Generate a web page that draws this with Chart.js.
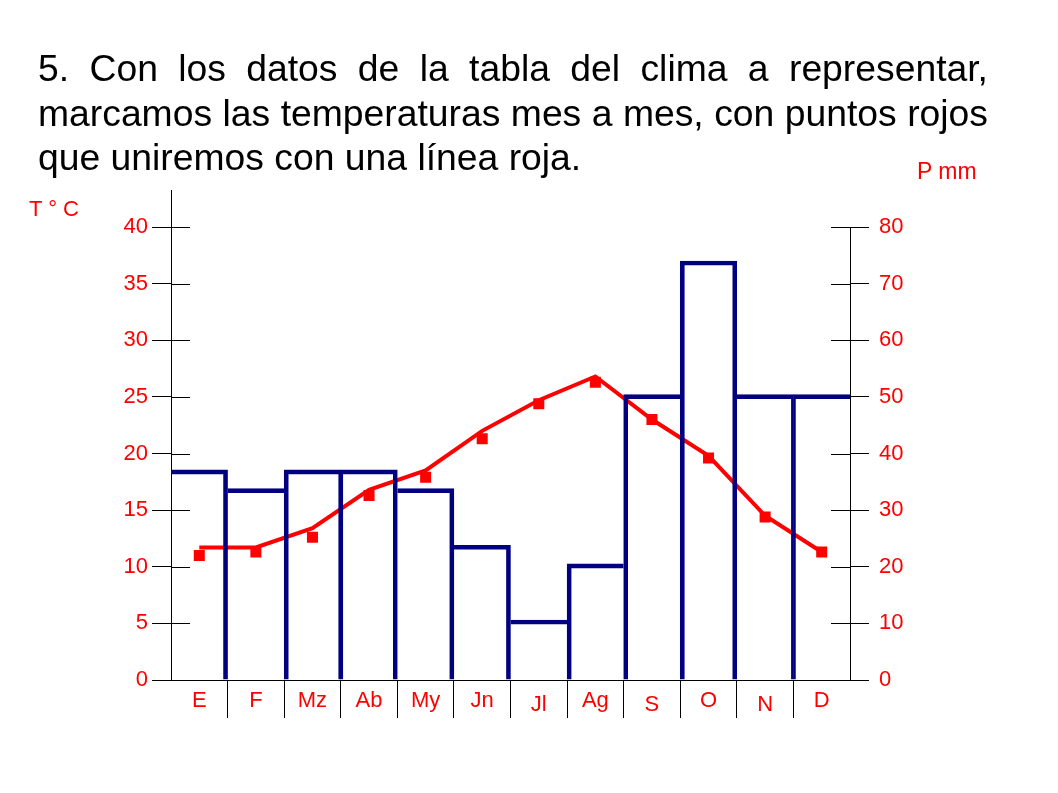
<!DOCTYPE html>
<html>
<head>
<meta charset="utf-8">
<script src="https://cdn.jsdelivr.net/npm/chart.js@4/dist/chart.umd.min.js"></script>
<style>
  body { margin: 0; background: #fff; font-family: 'Liberation Sans', Arial, sans-serif; }
  #wrap { position: relative; width: 1058px; height: 793px; overflow: hidden; }
  #graph { position: absolute; left: 0; top: 0; }
  .title { position: absolute; left: 38px; top: 46px; width: 950px; font-size: 37.3px; line-height: 44.5px; color: #000; }
  .title div { white-space: nowrap; }
  .title .just { text-align: justify; text-align-last: justify; }
  .lbl { position: absolute; font-size: 22px; line-height: 22px; color: #f00; white-space: nowrap; }
</style>
</head>
<body>
<div id="wrap">
  <canvas id="graph" width="1058" height="793"></canvas>
  <div class="title">
    <div class="just">5. Con los datos de la tabla del clima a representar,</div>
    <div class="just">marcamos las temperaturas mes a mes, con puntos rojos</div>
    <div>que uniremos con una línea roja.</div>
  </div>
  <div class="lbl" style="left:29px; top:198px;">T ° C</div>
  <div class="lbl" style="left:917px; top:160px; font-size:23px;">P mm</div>
</div>
<script>
// months as written under the axis
var months = ['E', 'F', 'Mz', 'Ab', 'My', 'Jn', 'Jl', 'Ag', 'S', 'O', 'N', 'D'];
// precipitation (mm, right axis)
var rainMm = [37.1, 33.8, 37.1, 37.1, 33.8, 23.8, 10.6, 20.5, 50.4, 74, 50.4, 50.4];
// red line as drawn (ºC)
var tempLine = [11.7, 11.7, 13.4, 16.8, 18.5, 22.0, 24.7, 26.8, 23.0, 19.8, 14.5, 11.3];
// red square marks (ºC)
var tempPoints = [11.0, 11.3, 12.6, 16.3, 17.9, 21.3, 24.4, 26.3, 23.0, 19.6, 14.4, 11.3];
// axis ticks
var tempTicks = [0, 5, 10, 15, 20, 25, 30, 35, 40];
var rainTicks = [0, 10, 20, 30, 40, 50, 60, 70, 80];
// month labels that sit a little lower in the drawing
var lowLabels = ['Jl', 'S', 'N'];

Chart.defaults.font.family = "'Liberation Sans', Arial, sans-serif";
Chart.defaults.font.size = 22;
Chart.defaults.color = '#f00';

// short inner half of the axis ticks, plus the left axis running up past 40
var axisMarks = {
  id: 'axisMarks',
  beforeDatasetsDraw: function(chart) {
    var ctx = chart.ctx;
    var yT = chart.scales.yT, yP = chart.scales.yP;
    ctx.save();
    ctx.strokeStyle = '#000';
    ctx.lineWidth = 1;
    ctx.beginPath();
    yT.ticks.forEach(function(t) {
      var y = Math.round(yT.getPixelForValue(t.value)) + 0.5;
      ctx.moveTo(yT.right, y);
      ctx.lineTo(yT.right + 19, y);
    });
    yP.ticks.forEach(function(t) {
      var y = Math.round(yP.getPixelForValue(t.value)) + 0.5;
      ctx.moveTo(yP.left - 19, y);
      ctx.lineTo(yP.left, y);
    });
    var x = Math.round(yT.right) + 0.5;
    ctx.moveTo(x, yT.top);
    ctx.lineTo(x, yT.top - 37);
    ctx.stroke();
    ctx.restore();
  }
};

function sideWidth(v, n) {
  if (n === undefined) return 0;
  if (v > n) return 4;
  if (v === n) return 2;
  return 0;
}

var ctx = document.getElementById('graph').getContext('2d');

var graph = new Chart(ctx, {
  type: 'bar',
  data: {
    labels: months,
    datasets: [{
      type: 'line',
      data: tempPoints,
      yAxisID: 'yT',
      showLine: false,
      pointStyle: 'rect',
      pointRadius: 7.8,
      pointBorderWidth: 0,
      pointBackgroundColor: '#f00',
      order: 0
    }, {
      type: 'bar',
      data: rainMm,
      yAxisID: 'yP',
      backgroundColor: 'rgba(0,0,0,0)',
      borderColor: '#000080',
      borderSkipped: false,
      borderWidth: function(c) {
        var i = c.dataIndex, v = rainMm[i];
        return { top: 4, bottom: 0, left: sideWidth(v, rainMm[i - 1]), right: sideWidth(v, rainMm[i + 1]) };
      },
      barPercentage: 1,
      categoryPercentage: 1,
      order: 1
    }, {
      type: 'line',
      data: tempLine,
      yAxisID: 'yT',
      borderColor: '#f00',
      borderWidth: 4,
      pointRadius: 0,
      tension: 0,
      fill: false,
      order: 2
    }]
  },
  options: {
    responsive: false,
    animation: false,
    layout: { padding: { top: 227, left: 0, right: 0, bottom: 0 } },
    plugins: {
      legend: { display: false },
      tooltip: { enabled: false }
    },
    scales: {
      x: {
        offset: true,
        afterFit: function(s) { s.height = 113; },
        border: { display: true, color: '#000', width: 1 },
        grid: {
          offset: true,
          drawOnChartArea: false,
          drawTicks: true,
          tickLength: 38,
          color: function(c) { return (c.type === 'tick' && c.index > 0) ? '#000' : 'rgba(0,0,0,0)'; },
          lineWidth: 1
        },
        ticks: {
          color: '#f00',
          padding: -30,
          maxRotation: 0,
          autoSkip: false,
          font: function(c) {
            var low = c.tick && lowLabels.indexOf(c.tick.label) >= 0;
            return { size: 22, lineHeight: low ? 1.55 : 1.2 };
          }
        }
      },
      yT: {
        position: 'left',
        min: 0,
        max: 40,
        afterFit: function(s) { s.width = 171; },
        afterBuildTicks: function(s) { s.ticks = tempTicks.map(function(v) { return { value: v }; }); },
        border: { display: true, color: '#000', width: 1 },
        grid: { drawOnChartArea: false, drawTicks: true, tickLength: 19, color: '#000', lineWidth: 1 },
        ticks: { color: '#f00', padding: 4 }
      },
      yP: {
        position: 'right',
        min: 0,
        max: 80,
        afterFit: function(s) { s.width = 208; },
        afterBuildTicks: function(s) { s.ticks = rainTicks.map(function(v) { return { value: v }; }); },
        border: { display: true, color: '#000', width: 1 },
        grid: { drawOnChartArea: false, drawTicks: true, tickLength: 19, color: '#000', lineWidth: 1 },
        ticks: { color: '#f00', padding: 10 }
      }
    }
  },
  plugins: [axisMarks]
});
</script>
</body>
</html>
